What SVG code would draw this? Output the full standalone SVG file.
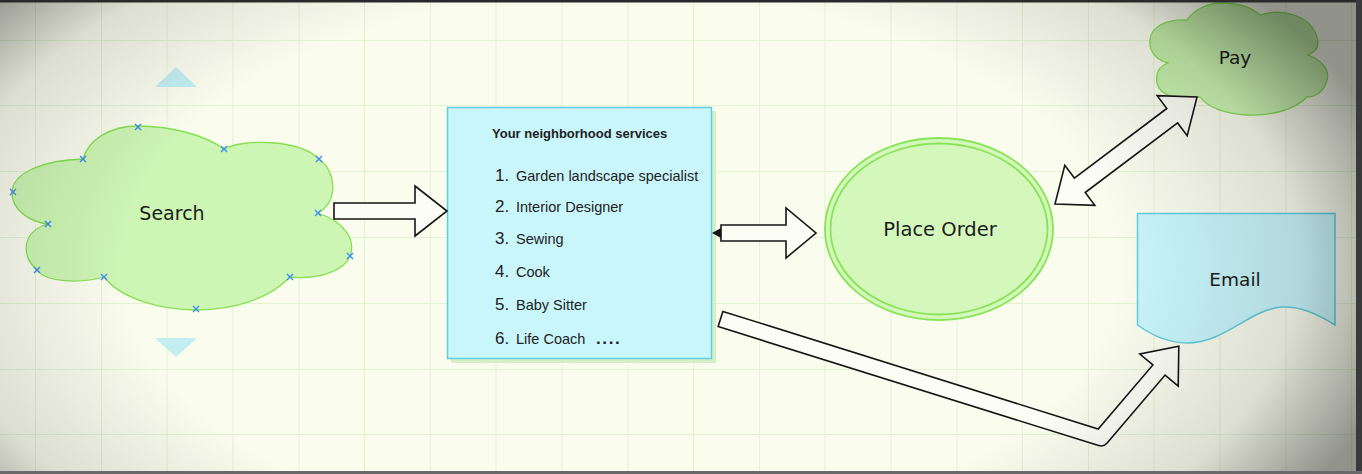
<svg xmlns="http://www.w3.org/2000/svg" width="1362" height="474" viewBox="0 0 1362 474">
<defs>
<style>
.grid{stroke:#e2f3d2;stroke-width:1;fill:none}
.cloud{fill:#cdf5b4;stroke:#86e052;stroke-width:1.3}
.mk{stroke:#3b8df2;stroke-width:1.4;fill:none}
.arrow{fill:#fcfdf4;stroke:#151515;stroke-width:1.6;stroke-linejoin:miter}
.lbl{font-family:"DejaVu Sans",Verdana,sans-serif;fill:#1c1c1c;text-anchor:middle}
.lst{font-family:"Liberation Sans",Arial,sans-serif;fill:#222}
.num{font-size:17px}
.itm{font-size:14.5px}
.handle{fill:#c2eef2}
</style>
<radialGradient id="vig" gradientUnits="userSpaceOnUse" cx="0" cy="0" r="1" gradientTransform="translate(620,265) scale(800,440)">
<stop offset="0.62" stop-color="#000" stop-opacity="0"/>
<stop offset="0.85" stop-color="#000" stop-opacity="0.12"/>
<stop offset="1" stop-color="#000" stop-opacity="0.42"/>
</radialGradient>
<linearGradient id="payfill" x1="0" y1="0" x2="0" y2="1">
<stop offset="0" stop-color="#bde7a3"/>
<stop offset="1" stop-color="#cdf5b4"/>
</linearGradient>
<path id="x" d="M-3,-3L3,3M-3,3L3,-3"/>
</defs>

<rect x="0" y="0" width="1362" height="474" fill="#fafcee"/>
<path class="grid" d="M35.5,0V474M101.5,0V474M167,0V474M233,0V474M299,0V474M364.5,0V474M430.5,0V474M496,0V474M562,0V474M628,0V474M693.5,0V474M759.5,0V474M825,0V474M891,0V474M957,0V474M1022.5,0V474M1088.5,0V474M1154,0V474M1220,0V474M1286,0V474M1351.5,0V474M0,40.5H1362M0,105.5H1362M0,171.5H1362M0,237.5H1362M0,303.5H1362M0,369.5H1362M0,434.5H1362"/>

<g id="search">
<path class="handle" d="M155,87L176,67L197,87Z"/>
<path class="handle" d="M155,338L197,338L176,357Z"/>
<path class="cloud" d="M48,224C30,222 12,210 12,193C12,172 45,160 83,159C88,140 110,126 138,126C170,126 205,135 224,149C245,138 300,140 319,159C335,170 340,200 318,213C345,222 356,240 350,256C345,270 320,280 290,277C270,298 235,310 196,310C160,310 120,298 104,277C80,284 45,282 37,270C22,258 20,232 48,224Z"/>
<g class="mk">
<use href="#x" x="138" y="127"/><use href="#x" x="83" y="159"/><use href="#x" x="224" y="149"/><use href="#x" x="319" y="159"/>
<use href="#x" x="13" y="192"/><use href="#x" x="48" y="224"/><use href="#x" x="318" y="213"/><use href="#x" x="350" y="256"/>
<use href="#x" x="37" y="270"/><use href="#x" x="104" y="277"/><use href="#x" x="290" y="277"/><use href="#x" x="196" y="309"/>
</g>
<text class="lbl" x="172" y="219.5" font-size="19">Search</text>
</g>

<g id="services">
<rect x="451" y="111" width="265" height="252" fill="#d4efc8"/>
<rect x="447.5" y="107.5" width="264" height="251" fill="#c9f6fb" stroke="#62cde0" stroke-width="1.5"/>
<text class="lst" x="492" y="137.5" font-size="13" font-weight="bold">Your neighborhood services</text>
<text class="lst num" x="495" y="181">1.</text>
<text class="lst itm" x="516" y="181">Garden landscape specialist</text>
<text class="lst num" x="495" y="211.5">2.</text>
<text class="lst itm" x="516" y="211.5">Interior Designer</text>
<text class="lst num" x="495" y="244">3.</text>
<text class="lst itm" x="516" y="244">Sewing</text>
<text class="lst num" x="495" y="277">4.</text>
<text class="lst itm" x="516" y="277">Cook</text>
<text class="lst num" x="495" y="310">5.</text>
<text class="lst itm" x="516" y="310">Baby Sitter</text>
<text class="lst num" x="495" y="343.5">6.</text>
<text class="lst itm" x="516" y="343.5">Life Coach <tspan x="596" font-size="17" font-weight="bold" letter-spacing="1.6">....</tspan></text>
</g>

<g id="place-order">
<ellipse cx="939" cy="229" rx="114" ry="91" fill="#d4f8bc" stroke="#88e456" stroke-width="1.8"/>
<ellipse cx="939" cy="229" rx="108.5" ry="85.5" fill="#d4f8bc" stroke="#88e456" stroke-width="1.8"/>
<text class="lbl" x="940" y="236" font-size="19.5">Place Order</text>
</g>

<g id="pay">
<path d="M1168,63C1155,60 1149,50 1150,40C1151,27 1165,19 1187,20C1195,8 1210,3 1222,3C1240,3 1252,8 1260,15C1280,8 1310,14 1317,37C1320,47 1316,52 1308,55C1322,60 1330,70 1327,80C1324,92 1315,97 1307,97C1295,110 1270,116 1247,115C1225,114 1207,107 1200,97C1180,100 1160,97 1157,83C1155,72 1160,66 1168,63Z" fill="url(#payfill)" stroke="#86e052" stroke-width="1.3"/>
<text class="lbl" x="1235" y="64" font-size="18.5">Pay</text>
</g>

<g id="email">
<path d="M1137.5,213.5H1335V325C1318,314 1300,306 1282,307C1250,309 1225,343 1187,343C1168,343 1150,334 1137.5,325Z" fill="#c9f6fb" stroke="#62cde0" stroke-width="1.5"/>
<text class="lbl" x="1235" y="286" font-size="18.5">Email</text>
</g>

<g id="connectors">
<path class="arrow" d="M334,203H415V186L447,211L415,236V219H334Z"/>
<path class="arrow" d="M721,225H786V208L816,233L786,258V241H721Z"/>
<path d="M712,233L721,228L721,238Z" fill="#151515"/>
<path class="arrow" d="M1055,204L1064.8,165.3L1074.4,178.1L1166.8,108.5L1157.2,95.7L1197,97L1187.2,135.7L1177.6,122.9L1085.2,192.5L1094.8,205.3Z"/>
<path class="arrow" d="M722.9,311.4L1098.2,429L1152.9,364.9L1139.8,354L1178.8,346.2L1178.2,386L1165.1,375.1L1107.1,443.1A8,8 0 0 1 1098.6,445.6L718.1,326.6Z"/>
</g>

<rect x="0" y="0" width="1362" height="474" fill="url(#vig)"/>
<rect x="0" y="0" width="1362" height="2.5" fill="#2a2a2a"/>
<rect x="1356" y="0" width="6" height="474" fill="#3a3a3a"/>
<rect x="0" y="471" width="1362" height="3" fill="#6a6a6a"/>
</svg>
